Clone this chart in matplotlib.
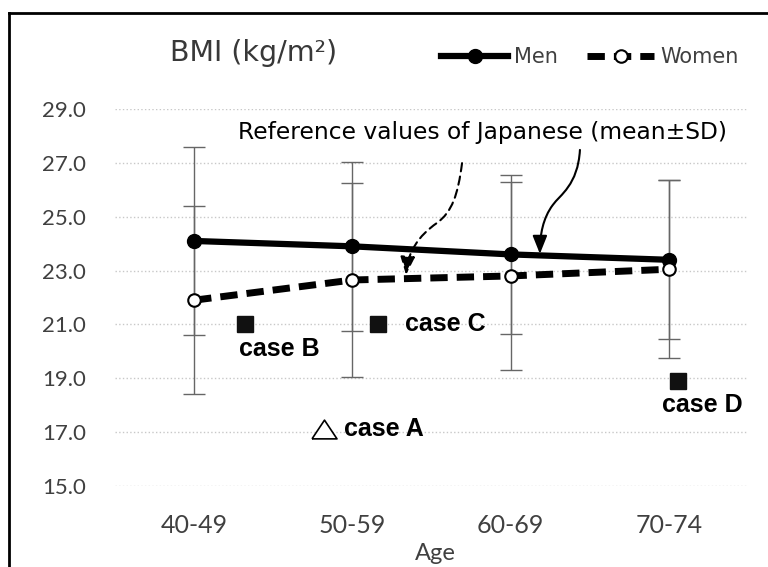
import numpy as np
import matplotlib
matplotlib.use('Agg')
import matplotlib.pyplot as plt
from matplotlib.path import Path
from matplotlib.patches import FancyArrowPatch
from matplotlib.lines import Line2D

ages = ['40-49', '50-59', '60-69', '70-74']
men_mean = [24.1, 23.9, 23.6, 23.4]
men_sd = [3.5, 3.15, 2.95, 2.95]
women_mean = [21.9, 22.65, 22.8, 23.05]
women_sd = [3.5, 3.6, 3.5, 3.3]

# individual cases (x in category units)
case_names = ['case A', 'case B', 'case C', 'case D']
case_x = [0.82, 0.32, 1.16, 3.06]
case_y = [17.1, 21.0, 21.0, 18.9]

yticks = [15, 17, 19, 21, 23, 25, 27, 29]

# curved pointer arrows (data coords)
solid_arrow = [(2.438, 27.48), (2.425, 26.18), (2.312, 25.81), (2.267, 25.44),
               (2.204, 24.95), (2.185, 24.32), (2.185, 23.62)]
dashed_arrow = [(1.693, 26.99), (1.667, 25.81), (1.630, 25.18), (1.535, 24.77),
                (1.415, 24.28), (1.352, 23.69), (1.339, 22.84)]

W, H = 768, 567
fig = plt.figure(figsize=(W/100, H/100), dpi=100)
ax = fig.add_axes([115/W, 1-486/H, 633/W, 377/H])

x = np.arange(len(ages))
ax.errorbar(x, men_mean, yerr=men_sd, fmt='none', ecolor='#666666',
            elinewidth=1, capsize=8, capthick=1, zorder=2)
ax.errorbar(x, women_mean, yerr=women_sd, fmt='none', ecolor='#666666',
            elinewidth=1, capsize=8, capthick=1, zorder=2)
ax.plot(x, men_mean, color='black', lw=4.5, marker='o', ms=10,
        mfc='black', mec='black', zorder=4, label='Men')
ax.plot(x, women_mean, color='black', lw=5, ls=(0, (2.5, 1.3)), marker='o', ms=9,
        mfc='white', mec='black', mew=1.5, zorder=4, label='Women')

# cases
tri = [(-1, -0.75), (1, -0.75), (0, 0.75), (-1, -0.75)]
ax.plot(case_x[:1], case_y[:1], ls='none', marker=tri, ms=18, mfc='white',
        mec='black', mew=1.2, zorder=5)
ax.plot(case_x[1:], case_y[1:], ls='none', marker='s', ms=12, color='#111111', zorder=5)
offsets = [(20, 0), (-6, -25), (27, 0), (-16, -24)]
for name, cx, cy, (dx, dy) in zip(case_names, case_x, case_y, offsets):
    ax.annotate(name, (cx, cy), xytext=(dx/1.389, dy/1.389), textcoords='offset points',
                ha='left', va='center', fontsize=18, fontweight='bold',
                family='Liberation Sans', color='black')

for pts, ls in [(solid_arrow, '-'), (dashed_arrow, (0, (4, 2.5)))]:
    codes = [Path.MOVETO] + [Path.CURVE4]*6
    arr = FancyArrowPatch(path=Path(pts, codes),
                          arrowstyle='-|>,head_length=0.55,head_width=0.22',
                          mutation_scale=20, lw=1.5, color='black', linestyle=ls,
                          zorder=6)
    ax.add_patch(arr)

ax.set_xlim(-0.5, 3.5)
ax.set_ylim(15, 29)
ax.set_yticks(yticks)
ax.set_yticklabels(['%.1f' % v for v in yticks])
ax.set_xticks(x)
ax.set_xticklabels(ages)
ax.tick_params(axis='both', length=0)
ax.tick_params(axis='y', pad=21, labelsize=16, labelcolor='#404040')
ax.tick_params(axis='x', pad=20, labelsize=18, labelcolor='#404040')
for lab in ax.get_xticklabels() + ax.get_yticklabels():
    lab.set_family('Lato')
for s in ax.spines.values():
    s.set_visible(False)
ax.yaxis.grid(True, color='#c8c8c8', ls=':', lw=1)
ax.set_axisbelow(True)

fig.text(435/W, 1-554/H, 'Age', ha='center', va='center', fontsize=17,
         family='Lato', color='#404040')
fig.text(170/W, 1-53/H, 'BMI (kg/m²)', ha='left', va='center', fontsize=20.5,
         family='DejaVu Sans', color='#383838')
fig.text(238/W, 1-132/H, 'Reference values of Japanese (mean\u00b1SD)', ha='left',
         va='center', fontsize=16.8, family='DejaVu Sans', color='black')

leg = fig.legend(loc='center', bbox_to_anchor=(590/W, 1-57/H), ncol=2, frameon=False,
                 handlelength=3.2, handletextpad=0.3, columnspacing=1.4,
                 prop={'family': 'DejaVu Sans', 'size': 15})
for t in leg.get_texts():
    t.set_color('#404040')

# outer frame (top and left edges visible)
fig.add_artist(Line2D([9/W, 9/W], [0, 1-13/H], color='black', lw=2))
fig.add_artist(Line2D([9/W, 1], [1-13/H, 1-13/H], color='black', lw=2))

fig.savefig('out.png', dpi=100)
